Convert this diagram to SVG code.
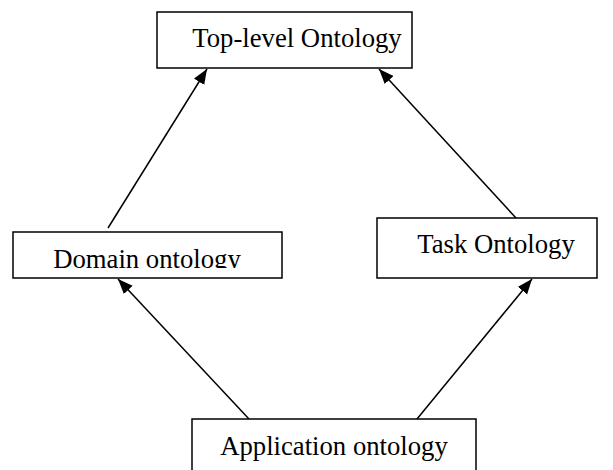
<svg xmlns="http://www.w3.org/2000/svg" width="613" height="470" viewBox="0 0 613 470">
<style>
.box{fill:#fff;stroke:#000;stroke-width:1.5}
.lbl{font-family:"Liberation Serif","Times New Roman",serif;font-size:26.7px;fill:#000;text-anchor:middle}
.edge{stroke:#000;stroke-width:1.5;fill:none;marker-end:url(#ah)}
</style>
<defs>
<marker id="ah" markerUnits="userSpaceOnUse" markerWidth="16" markerHeight="13" refX="15" refY="6" orient="auto">
<path d="M0,0 L15,6 L0,12 z" fill="#000"/>
</marker>
<clipPath id="domclip"><rect x="13" y="232" width="269" height="36"/></clipPath>
</defs>
<rect width="613" height="470" fill="#fff"/>
<g id="top">
<rect class="box" x="157" y="12" width="255" height="56"/>
<text class="lbl" x="297" y="47">Top-level Ontology</text>
</g>
<g id="domain">
<rect class="box" x="13" y="232" width="269" height="46"/>
<text class="lbl" x="147" y="267.5" clip-path="url(#domclip)">Domain ontology</text>
</g>
<g id="task">
<rect class="box" x="377" y="218" width="220" height="60"/>
<text class="lbl" x="496" y="253">Task Ontology</text>
</g>
<g id="application">
<rect class="box" x="192" y="419" width="284" height="60"/>
<text class="lbl" x="334" y="455">Application ontology</text>
</g>
<g id="connectors">
<line class="edge" x1="108" y1="228" x2="207" y2="69"/>
<line class="edge" x1="516" y1="218" x2="379" y2="69"/>
<line class="edge" x1="249" y1="419" x2="118" y2="279"/>
<line class="edge" x1="417" y1="419" x2="532" y2="279"/>
</g>
</svg>
